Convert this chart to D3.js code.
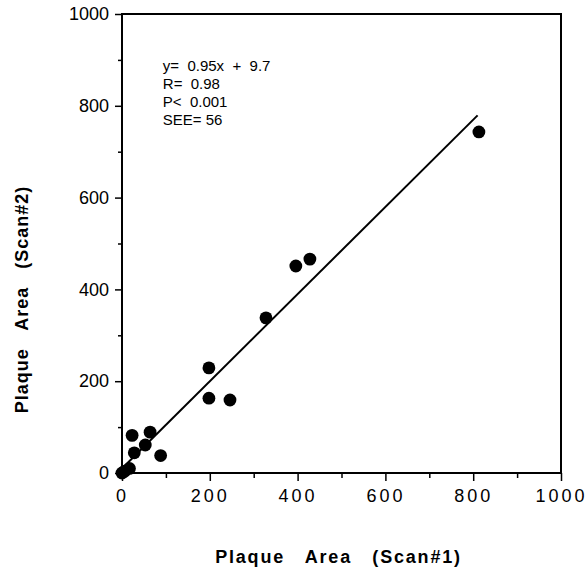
<!DOCTYPE html>
<html>
<head>
<meta charset="utf-8">
<script src="https://cdn.jsdelivr.net/npm/d3@7"></script>
<style>
  body { margin: 0; background: #fff; }
  svg { display: block; font-family: "Liberation Sans", Arial, sans-serif; }
</style>
</head>
<body>
<svg id="chart" width="588" height="571"></svg>
<script>
// scan #1 vs scan #2 plaque area
const scan1 = [0, 6, 17, 28, 23, 53, 64, 88, 198, 198, 246, 328, 396, 428, 813];
const scan2 = [0, 4, 10, 44, 82, 61, 89, 38, 229, 163, 159, 338, 451, 466, 743];

const fitSlope = 0.95;
const fitIntercept = 9.7;
const fitRange = [0, 810];

const statLines = ["y=  0.95x  +  9.7", "R=  0.98", "P<  0.001", "SEE= 56"];
const majorTicks = [0, 200, 400, 600, 800, 1000];
const minorTicks = [100, 300, 500, 700, 900];

const svg = d3.select('#chart');
const margin = { top: 14, right: 27, bottom: 98, left: 122 };
const width = 588 - margin.left - margin.right;
const height = 571 - margin.top - margin.bottom;

const g = svg.append('g')
  .attr('transform', `translate(${margin.left},${margin.top})`);

const x = d3.scaleLinear().domain([0, 1000]).range([0, width]);
const y = d3.scaleLinear().domain([0, 1000]).range([height, 0]);
const fmt = d3.format('d');

// frame
g.append('rect')
  .attr('width', width)
  .attr('height', height)
  .attr('fill', 'none')
  .attr('stroke', '#000')
  .attr('stroke-width', 2);

// x axis
const xAxis = g.append('g')
  .attr('transform', `translate(0,${height})`)
  .call(d3.axisBottom(x).tickValues(majorTicks).tickFormat(fmt).tickSize(8).tickPadding(8));
xAxis.append('g')
  .call(d3.axisBottom(x).tickValues(minorTicks).tickSize(5).tickFormat(''));
xAxis.selectAll('.domain').remove();
xAxis.selectAll('line').attr('stroke', '#000').attr('stroke-width', 1.5);
xAxis.selectAll('text')
  .attr('fill', '#000')
  .style('font-size', '18px')
  .style('letter-spacing', '3px');

// y axis
const yAxis = g.append('g')
  .call(d3.axisLeft(y).tickValues(majorTicks).tickFormat(fmt).tickSize(7).tickPadding(6));
yAxis.append('g')
  .call(d3.axisLeft(y).tickValues(minorTicks).tickSize(4).tickFormat(''));
yAxis.selectAll('.domain').remove();
yAxis.selectAll('line').attr('stroke', '#000').attr('stroke-width', 1.5);
yAxis.selectAll('text')
  .attr('fill', '#000')
  .style('font-size', '18px');

// regression line
g.append('line')
  .attr('x1', x(fitRange[0]))
  .attr('y1', y(fitSlope * fitRange[0] + fitIntercept))
  .attr('x2', x(fitRange[1]))
  .attr('y2', y(fitSlope * fitRange[1] + fitIntercept))
  .attr('stroke', '#000')
  .attr('stroke-width', 2);

// points
g.selectAll('circle.pt')
  .data(scan1.map((d, i) => ({ a: d, b: scan2[i] })))
  .join('circle')
  .attr('class', 'pt')
  .attr('cx', d => x(d.a))
  .attr('cy', d => y(d.b))
  .attr('r', 6.4)
  .attr('fill', '#000');

// stats block
g.append('g')
  .attr('transform', `translate(${x(93)},${y(875)})`)
  .selectAll('text')
  .data(statLines)
  .join('text')
  .attr('y', (d, i) => i * 18)
  .attr('xml:space', 'preserve')
  .style('white-space', 'pre')
  .style('font-size', '15px')
  .text(d => d);

// axis titles
svg.append('text')
  .attr('x', margin.left + width / 2 - 3)
  .attr('y', 563)
  .attr('text-anchor', 'middle')
  .style('white-space', 'pre')
  .style('font-size', '18px')
  .style('font-weight', 'bold')
  .style('letter-spacing', '1.8px')
  .text('Plaque   Area   (Scan#1)');

svg.append('text')
  .attr('transform', `translate(28,${margin.top + height / 2 + 56}) rotate(-90)`)
  .attr('text-anchor', 'middle')
  .style('white-space', 'pre')
  .style('font-size', '18px')
  .style('font-weight', 'bold')
  .style('letter-spacing', '1px')
  .text('Plaque   Area   (Scan#2)');
</script>
</body>
</html>
